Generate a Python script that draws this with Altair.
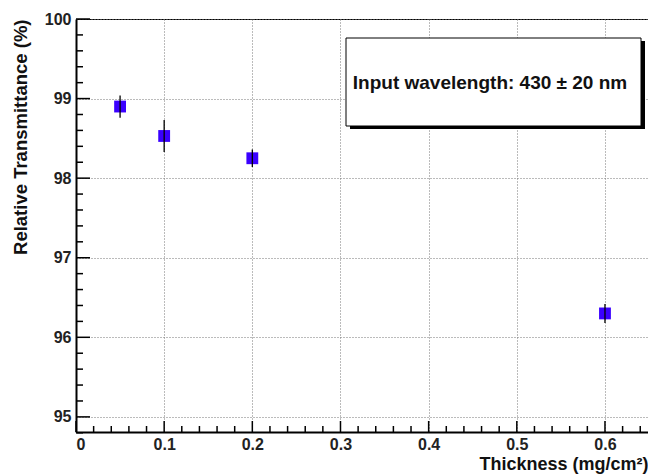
import altair as alt
import pandas as pd

# data
thickness = [0.05, 0.1, 0.2, 0.6]
transmittance = [98.90, 98.53, 98.25, 96.30]
err = [0.14, 0.20, 0.11, 0.12]

x_major = [0.0, 0.1, 0.2, 0.3, 0.4, 0.5, 0.6]
x_minor = [0.02, 0.04, 0.06, 0.08, 0.12, 0.14, 0.16, 0.18, 0.22, 0.24, 0.26, 0.28,
           0.32, 0.34, 0.36, 0.38, 0.42, 0.44, 0.46, 0.48, 0.52, 0.54, 0.56, 0.58,
           0.62, 0.64]
y_major = [95, 96, 97, 98, 99, 100]
y_minor = [94.8, 95.2, 95.4, 95.6, 95.8, 96.2, 96.4, 96.6, 96.8, 97.2, 97.4, 97.6, 97.8,
           98.2, 98.4, 98.6, 98.8, 99.2, 99.4, 99.6, 99.8]

label_text = "Input wavelength: 430 \u00b1 20 nm"

W, H = 572, 413
FONT = "Liberation Sans"

pts = pd.DataFrame({"x": thickness, "y": transmittance,
                    "lo": [v - e for v, e in zip(transmittance, err)],
                    "hi": [v + e for v, e in zip(transmittance, err)]})

xs = alt.Scale(domain=[0, 0.6488], nice=False, zero=False)
ys = alt.Scale(domain=[94.81, 100], nice=False, zero=False)

xaxis = alt.Axis(values=x_major, format="~g", title="Thickness (mg/cm\u00b2)",
                 titleAnchor="end", titleFont=FONT, titleFontSize=18, titleFontWeight="bold",
                 titleColor="#111", titlePadding=3, titleX=W,
                 labelFont=FONT, labelFontSize=16, labelFontWeight="bold", labelColor="#222",
                 labelPadding=4, tickSize=0, domainColor="#000", domainWidth=2,
                 grid=True, gridColor="#777", gridDash=[1, 2], gridWidth=1)
yaxis = alt.Axis(values=y_major, title="Relative Transmittance (%)",
                 titleAnchor="end", titleFont=FONT, titleFontSize=18.5, titleFontWeight="bold",
                 titleColor="#111", titlePadding=14,
                 labelFont=FONT, labelFontSize=16, labelFontWeight="bold", labelColor="#222",
                 labelPadding=5, tickSize=0, domainColor="#000", domainWidth=2,
                 grid=True, gridColor="#777", gridDash=[1, 2], gridWidth=1)

points = alt.Chart(pts).mark_square(size=140, color="#3a00ff", opacity=1).encode(
    x=alt.X("x:Q", scale=xs, axis=xaxis),
    y=alt.Y("y:Q", scale=ys, axis=yaxis),
)
errbars = alt.Chart(pts).mark_rule(color="#000", strokeWidth=1.3).encode(
    x=alt.X("x:Q", scale=xs, axis=xaxis),
    y=alt.Y("lo:Q", scale=ys, axis=yaxis),
    y2="hi:Q",
)

ymaj = alt.Chart(pd.DataFrame({"v": y_major})).mark_rule(color="#000", strokeWidth=1.5).encode(
    y=alt.Y("v:Q", scale=ys, axis=yaxis), x=alt.value(0), x2=alt.value(14))
ymin = alt.Chart(pd.DataFrame({"v": y_minor})).mark_rule(color="#000", strokeWidth=1.5).encode(
    y=alt.Y("v:Q", scale=ys, axis=yaxis), x=alt.value(0), x2=alt.value(7))
xmaj = alt.Chart(pd.DataFrame({"v": x_major})).mark_rule(color="#000", strokeWidth=1.5).encode(
    x=alt.X("v:Q", scale=xs, axis=xaxis), y=alt.value(H), y2=alt.value(H - 11))
xmin = alt.Chart(pd.DataFrame({"v": x_minor})).mark_rule(color="#000", strokeWidth=1.5).encode(
    x=alt.X("v:Q", scale=xs, axis=xaxis), y=alt.value(H), y2=alt.value(H - 6))

shadow = alt.Chart(pd.DataFrame({"t": [label_text]})).mark_rect(color="#000").encode(
    x=alt.value(274), x2=alt.value(569), y=alt.value(22), y2=alt.value(110))
box = alt.Chart(pd.DataFrame({"t": [label_text]})).mark_rect(
    fill="#fff", stroke="#000", strokeWidth=1).encode(
    x=alt.value(270), x2=alt.value(565), y=alt.value(19), y2=alt.value(107))
txt = alt.Chart(pd.DataFrame({"t": [label_text]})).mark_text(
    font=FONT, fontSize=19, fontWeight="bold", color="#111", align="center", baseline="middle").encode(
    text="t:N", x=alt.value(414), y=alt.value(64))

chart = alt.layer(points, errbars, ymaj, ymin, xmaj, xmin, shadow, box, txt).properties(
    width=W, height=H, autosize=alt.AutoSizeParams(type="none"),
    padding={"left": 68, "top": 11, "right": 0, "bottom": 44},
    background="#fff",
).configure_view(stroke="#000", strokeWidth=1)

chart.save("out.html", embed_options={"renderer": "svg", "actions": False})
